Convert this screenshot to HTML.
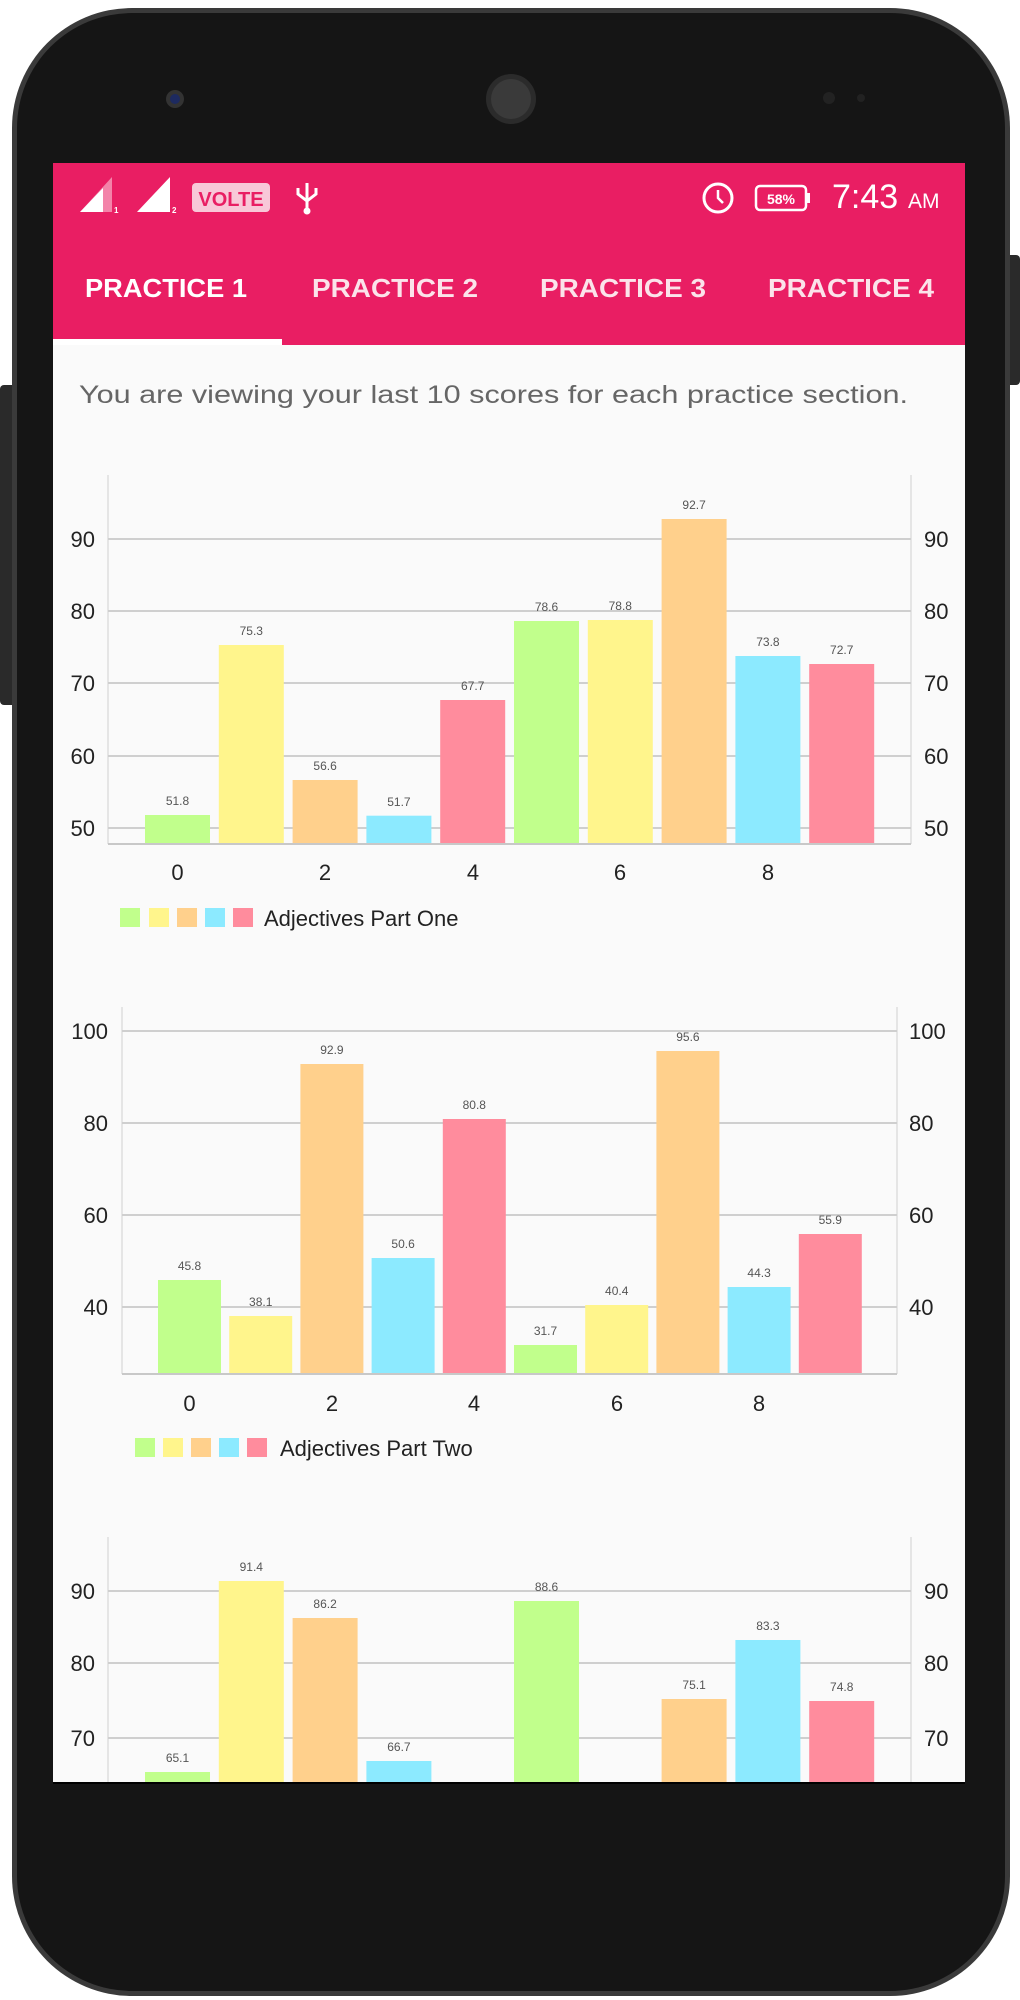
<!DOCTYPE html>
<html><head><meta charset="utf-8"><style>
html,body{margin:0;padding:0;background:#fff;width:1020px;height:2000px;overflow:hidden}
svg{display:block}
text{font-family:"Liberation Sans",sans-serif}
</style></head><body>
<svg width="1020" height="2000" viewBox="0 0 1020 2000" xmlns="http://www.w3.org/2000/svg">
<!-- side buttons -->
<rect x="1004" y="255" width="16" height="130" rx="4" fill="#2a2a2a"/>
<rect x="0" y="385" width="18" height="320" rx="4" fill="#2a2a2a"/>
<!-- body -->
<rect x="12" y="8" width="998" height="1988" rx="120" fill="#3a3a3a"/>
<rect x="17" y="13" width="988" height="1978" rx="115" fill="#151515"/>
<!-- camera, speaker, sensors -->
<circle cx="175" cy="99" r="9" fill="#333"/><circle cx="175" cy="99" r="5" fill="#1d2a60"/>
<circle cx="511" cy="99" r="25" fill="#2b2b2b"/><circle cx="511" cy="99" r="20" fill="#3a3a3a"/>
<circle cx="829" cy="98" r="6" fill="#222"/><circle cx="861" cy="98" r="4" fill="#222"/>
<!-- screen -->
<rect x="53" y="163" width="912" height="1619" fill="#fafafa"/>
<rect x="53" y="163" width="912" height="182" fill="#e91e63"/>
<rect x="53" y="339" width="229" height="6" fill="#fff"/>
<!-- status icons -->
<polygon points="80,212 112,212 112,177" fill="#fff" opacity="0.45"/>
<polygon points="80,212 103,212 103,188" fill="#fff"/>
<text x="114" y="213" font-size="8" fill="#fff" font-weight="bold">1</text>
<polygon points="137,212 170,212 170,177" fill="#fff"/>
<text x="172" y="213" font-size="8" fill="#fff" font-weight="bold">2</text>
<rect x="192" y="183" width="78" height="29" rx="4" fill="#f8c8d8"/>
<text x="231" y="206" font-size="20" font-weight="bold" fill="#e91e63" text-anchor="middle">VOLTE</text>
<g stroke="#fff" stroke-width="3" fill="none"><line x1="307" y1="183" x2="307" y2="210"/><path d="M298,188 v6 l9,7 l9,-7 v-6"/></g>
<circle cx="307" cy="211" r="3.5" fill="#fff"/>
<circle cx="718" cy="198" r="14" fill="none" stroke="#fff" stroke-width="3"/>
<path d="M718,190 v8 l5,5" stroke="#fff" stroke-width="2.5" fill="none"/>
<rect x="756" y="186" width="50" height="24" rx="4" fill="none" stroke="#fff" stroke-width="2.5"/>
<rect x="806" y="193" width="4" height="10" fill="#fff"/>
<text x="781" y="204" font-size="14" font-weight="bold" fill="#fff" text-anchor="middle">58%</text>
<text x="832" y="208" font-size="34" fill="#fff">7:43</text>
<text x="908" y="208" font-size="21" fill="#fff">AM</text>
<!-- tabs -->
<g font-size="26" font-weight="bold" fill="#fff">
<text x="85" y="297" textLength="162" lengthAdjust="spacingAndGlyphs">PRACTICE 1</text>
<text x="312" y="297" textLength="166" lengthAdjust="spacingAndGlyphs" fill="#fbe3ea">PRACTICE 2</text>
<text x="540" y="297" textLength="166" lengthAdjust="spacingAndGlyphs" fill="#fbe3ea">PRACTICE 3</text>
<text x="768" y="297" textLength="166" lengthAdjust="spacingAndGlyphs" fill="#fbe3ea">PRACTICE 4</text>
</g>
<text x="79" y="403" font-size="25" fill="#666" textLength="829" lengthAdjust="spacingAndGlyphs">You are viewing your last 10 scores for each practice section.</text>

<!-- CHART 1 -->
<g stroke="#d0d0d0" stroke-width="1"><line x1="108" y1="475" x2="108" y2="844"/><line x1="911" y1="475" x2="911" y2="844"/></g>
<g stroke="#cfcfcf" stroke-width="2">
<line x1="108" y1="539" x2="911" y2="539"/><line x1="108" y1="611" x2="911" y2="611"/><line x1="108" y1="683" x2="911" y2="683"/><line x1="108" y1="756" x2="911" y2="756"/><line x1="108" y1="828" x2="911" y2="828"/>
</g>
<g>
<rect x="145" y="815" width="65" height="29" fill="#c1ff8c"/>
<rect x="218.8" y="645" width="65" height="199" fill="#fff58c"/>
<rect x="292.6" y="780" width="65" height="64" fill="#ffd08c"/>
<rect x="366.4" y="815.7" width="65" height="28.3" fill="#8ceaff"/>
<rect x="440.2" y="700" width="65" height="144" fill="#ff8c9d"/>
<rect x="514" y="621" width="65" height="223" fill="#c1ff8c"/>
<rect x="587.8" y="620" width="65" height="224" fill="#fff58c"/>
<rect x="661.6" y="519" width="65" height="325" fill="#ffd08c"/>
<rect x="735.4" y="656" width="65" height="188" fill="#8ceaff"/>
<rect x="809.2" y="664" width="65" height="180" fill="#ff8c9d"/>
</g>
<line x1="108" y1="844" x2="911" y2="844" stroke="#c8c8c8" stroke-width="2"/>
<g font-size="12" fill="#555" text-anchor="middle">
<text x="177.5" y="805">51.8</text><text x="251.3" y="635">75.3</text><text x="325.1" y="770">56.6</text><text x="398.9" y="806">51.7</text><text x="472.7" y="690">67.7</text><text x="546.5" y="611">78.6</text><text x="620.3" y="610">78.8</text><text x="694.1" y="509">92.7</text><text x="767.9" y="646">73.8</text><text x="841.7" y="654">72.7</text>
</g>
<g font-size="22" fill="#222">
<g text-anchor="end"><text x="95" y="547">90</text><text x="95" y="619">80</text><text x="95" y="691">70</text><text x="95" y="764">60</text><text x="95" y="836">50</text></g>
<text x="924" y="547">90</text><text x="924" y="619">80</text><text x="924" y="691">70</text><text x="924" y="764">60</text><text x="924" y="836">50</text>
<g text-anchor="middle"><text x="177.5" y="880">0</text><text x="325" y="880">2</text><text x="473" y="880">4</text><text x="620" y="880">6</text><text x="768" y="880">8</text></g>
</g>
<rect x="120" y="908" width="20" height="19" fill="#c1ff8c"/><rect x="149" y="908" width="20" height="19" fill="#fff58c"/><rect x="177" y="908" width="20" height="19" fill="#ffd08c"/><rect x="205" y="908" width="20" height="19" fill="#8ceaff"/><rect x="233" y="908" width="20" height="19" fill="#ff8c9d"/>
<text x="264" y="926" font-size="22" fill="#222">Adjectives Part One</text>

<!-- CHART 2 -->
<g stroke="#d0d0d0" stroke-width="1"><line x1="122" y1="1007" x2="122" y2="1374"/><line x1="897" y1="1007" x2="897" y2="1374"/></g>
<g stroke="#cfcfcf" stroke-width="2">
<line x1="122" y1="1031" x2="897" y2="1031"/><line x1="122" y1="1123" x2="897" y2="1123"/><line x1="122" y1="1215" x2="897" y2="1215"/><line x1="122" y1="1307" x2="897" y2="1307"/>
</g>
<g>
<rect x="158" y="1280" width="63" height="94" fill="#c1ff8c"/>
<rect x="229.2" y="1316" width="63" height="58" fill="#fff58c"/>
<rect x="300.4" y="1064" width="63" height="310" fill="#ffd08c"/>
<rect x="371.6" y="1258" width="63" height="116" fill="#8ceaff"/>
<rect x="442.8" y="1119" width="63" height="255" fill="#ff8c9d"/>
<rect x="514" y="1345" width="63" height="29" fill="#c1ff8c"/>
<rect x="585.2" y="1305" width="63" height="69" fill="#fff58c"/>
<rect x="656.4" y="1051" width="63" height="323" fill="#ffd08c"/>
<rect x="727.6" y="1287" width="63" height="87" fill="#8ceaff"/>
<rect x="798.8" y="1234" width="63" height="140" fill="#ff8c9d"/>
</g>
<line x1="122" y1="1374" x2="897" y2="1374" stroke="#c8c8c8" stroke-width="2"/>
<g font-size="12" fill="#555" text-anchor="middle">
<text x="189.5" y="1270">45.8</text><text x="260.7" y="1306">38.1</text><text x="331.9" y="1054">92.9</text><text x="403.1" y="1248">50.6</text><text x="474.3" y="1109">80.8</text><text x="545.5" y="1335">31.7</text><text x="616.7" y="1295">40.4</text><text x="687.9" y="1041">95.6</text><text x="759.1" y="1277">44.3</text><text x="830.3" y="1224">55.9</text>
</g>
<g font-size="22" fill="#222">
<g text-anchor="end"><text x="108" y="1039">100</text><text x="108" y="1131">80</text><text x="108" y="1223">60</text><text x="108" y="1315">40</text></g>
<text x="909" y="1039">100</text><text x="909" y="1131">80</text><text x="909" y="1223">60</text><text x="909" y="1315">40</text>
<g text-anchor="middle"><text x="189.5" y="1411">0</text><text x="332" y="1411">2</text><text x="474" y="1411">4</text><text x="617" y="1411">6</text><text x="759" y="1411">8</text></g>
</g>
<rect x="135" y="1438" width="20" height="19" fill="#c1ff8c"/><rect x="163" y="1438" width="20" height="19" fill="#fff58c"/><rect x="191" y="1438" width="20" height="19" fill="#ffd08c"/><rect x="219" y="1438" width="20" height="19" fill="#8ceaff"/><rect x="247" y="1438" width="20" height="19" fill="#ff8c9d"/>
<text x="280" y="1456" font-size="22" fill="#222">Adjectives Part Two</text>

<!-- CHART 3 -->
<g stroke="#d0d0d0" stroke-width="1"><line x1="108" y1="1537" x2="108" y2="1782"/><line x1="911" y1="1537" x2="911" y2="1782"/></g>
<g stroke="#cfcfcf" stroke-width="2">
<line x1="108" y1="1591" x2="911" y2="1591"/><line x1="108" y1="1663" x2="911" y2="1663"/><line x1="108" y1="1738" x2="911" y2="1738"/>
</g>
<g>
<rect x="145" y="1772" width="65" height="10" fill="#c1ff8c"/>
<rect x="218.8" y="1581" width="65" height="201" fill="#fff58c"/>
<rect x="292.6" y="1618" width="65" height="164" fill="#ffd08c"/>
<rect x="366.4" y="1761" width="65" height="21" fill="#8ceaff"/>
<rect x="514" y="1601" width="65" height="181" fill="#c1ff8c"/>
<rect x="661.6" y="1699" width="65" height="83" fill="#ffd08c"/>
<rect x="735.4" y="1640" width="65" height="142" fill="#8ceaff"/>
<rect x="809.2" y="1701" width="65" height="81" fill="#ff8c9d"/>
</g>
<g font-size="12" fill="#555" text-anchor="middle">
<text x="177.5" y="1762">65.1</text><text x="251.3" y="1571">91.4</text><text x="325.1" y="1608">86.2</text><text x="398.9" y="1751">66.7</text><text x="546.5" y="1591">88.6</text><text x="694.1" y="1689">75.1</text><text x="767.9" y="1630">83.3</text><text x="841.7" y="1691">74.8</text>
</g>
<g font-size="22" fill="#222">
<g text-anchor="end"><text x="95" y="1599">90</text><text x="95" y="1671">80</text><text x="95" y="1746">70</text></g>
<text x="924" y="1599">90</text><text x="924" y="1671">80</text><text x="924" y="1746">70</text>
</g>
<rect x="53" y="1782" width="912" height="2" fill="#000"/>
</svg>
</body></html>
